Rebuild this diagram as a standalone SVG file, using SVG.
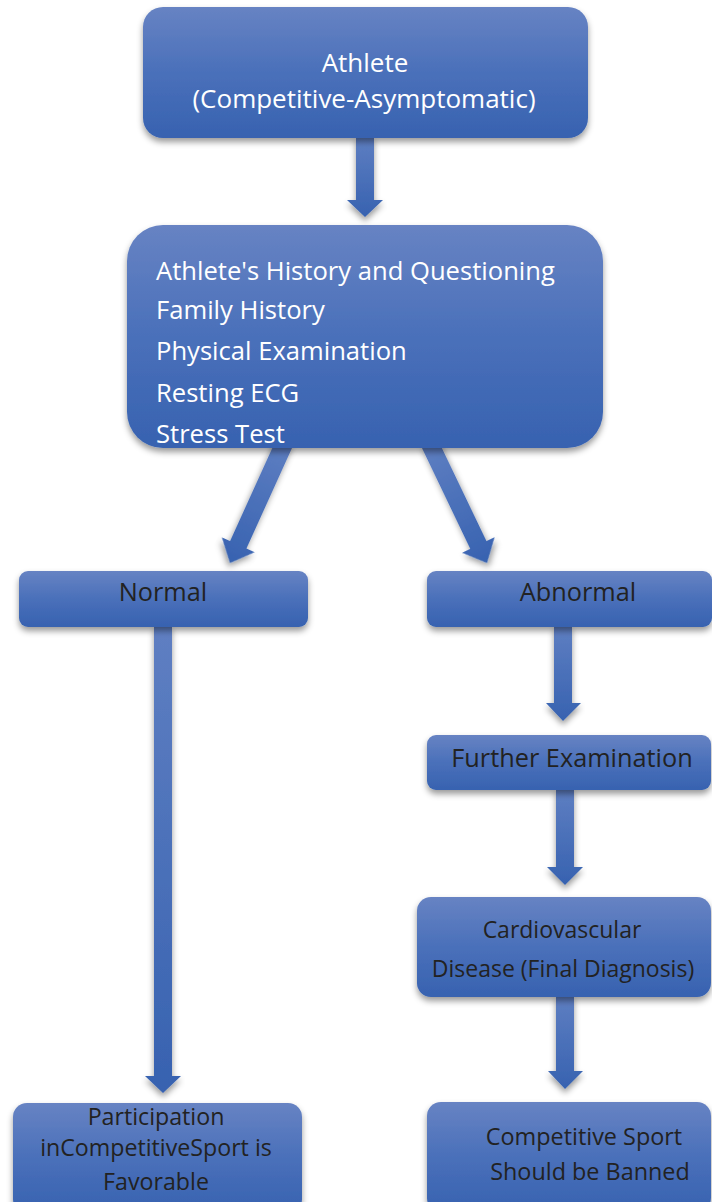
<svg xmlns="http://www.w3.org/2000/svg" width="712" height="1202" viewBox="0 0 712 1202">
  <defs>
    <linearGradient id="boxFill" x1="0" y1="0" x2="0" y2="1">
      <stop offset="0" stop-color="#6783c3"/>
      <stop offset="0.5" stop-color="#4a70ba"/>
      <stop offset="1" stop-color="#3762b0"/>
    </linearGradient>
    <linearGradient id="arrowFill" x1="0" y1="0" x2="0" y2="1">
      <stop offset="0" stop-color="#5f7fc2"/>
      <stop offset="1" stop-color="#3762b0"/>
    </linearGradient>
    <filter id="shadow" x="-10%" y="-10%" width="120%" height="130%">
      <feDropShadow dx="0" dy="4" stdDeviation="3" flood-color="#000" flood-opacity="0.4"/>
    </filter>
    <style>
      .box { fill: url(#boxFill); filter: url(#shadow); }
      .arrow { fill: url(#arrowFill); filter: url(#shadow); }
      .lt { font-family: "Open Sans", "Noto Sans", sans-serif; fill: #ffffff; }
      .dk { font-family: "Open Sans", "Noto Sans", sans-serif; fill: #222222; }
      .c { text-anchor: middle; }
    </style>
  </defs>

  <!-- connectors -->
  <g id="connectors">
    <!-- Athlete -> screening -->
    <polygon class="arrow" points="356,136 374,136 374,200 383,200 365,217 347,200 356,200"/>
    <!-- screening -> Normal -->
    <g transform="translate(230,563) rotate(24.4)">
      <polygon class="arrow" points="-9,-135 9,-135 9,-20 18,-20 0,0 -18,-20 -9,-20"/>
    </g>
    <!-- screening -> Abnormal -->
    <g transform="translate(487,563) rotate(-25.6)">
      <polygon class="arrow" points="-9,-135 9,-135 9,-20 18,-20 0,0 -18,-20 -9,-20"/>
    </g>
    <!-- Normal -> Participation -->
    <polygon class="arrow" points="154,625 172,625 172,1076 181,1076 163,1093 145,1076 154,1076"/>
    <!-- Abnormal -> Further Examination -->
    <polygon class="arrow" points="554,625 572,625 572,703 581,703 563,721 546,703 554,703"/>
    <!-- Further Examination -> Cardiovascular -->
    <polygon class="arrow" points="556,788 574,788 574,867 583,867 565,885 547,867 556,867"/>
    <!-- Cardiovascular -> Banned -->
    <polygon class="arrow" points="556,995 574,995 574,1071 583,1071 565,1089 548,1071 556,1071"/>
  </g>

  <g id="athlete">
    <rect class="box" x="143" y="7" width="445" height="131" rx="20"/>
    <text class="lt c" x="365" y="72" font-size="26">Athlete</text>
    <text class="lt c" x="364" y="108" font-size="26">(Competitive-Asymptomatic)</text>
  </g>

  <g id="screening">
    <rect class="box" x="127" y="225" width="476" height="223" rx="36"/>
    <text class="lt" x="156" y="280" font-size="25.6">Athlete's History and Questioning</text>
    <text class="lt" x="156" y="319" font-size="25.6">Family History</text>
    <text class="lt" x="156" y="360" font-size="25.6">Physical Examination</text>
    <text class="lt" x="156" y="402" font-size="25.6">Resting ECG</text>
    <text class="lt" x="156" y="443" font-size="25.6">Stress Test</text>
  </g>

  <g id="normal">
    <rect class="box" x="19" y="571" width="289" height="56" rx="9"/>
    <text class="dk c" x="163" y="601" font-size="25.3">Normal</text>
  </g>

  <g id="abnormal">
    <rect class="box" x="427" y="571" width="285" height="56" rx="9"/>
    <text class="dk c" x="578" y="601" font-size="25.3">Abnormal</text>
  </g>

  <g id="further">
    <rect class="box" x="427" y="735" width="284" height="55" rx="9"/>
    <text class="dk c" x="572" y="767" font-size="25.3">Further Examination</text>
  </g>

  <g id="cardiovascular">
    <rect class="box" x="417" y="897" width="294" height="100" rx="14"/>
    <text class="dk c" x="562" y="938" font-size="23">Cardiovascular</text>
    <text class="dk c" x="563" y="977" font-size="23">Disease (Final Diagnosis)</text>
  </g>

  <g id="participation">
    <rect class="box" x="13" y="1103" width="289" height="110" rx="14"/>
    <text class="dk c" x="156" y="1125" font-size="23.2">Participation</text>
    <text class="dk c" x="156" y="1156" font-size="23.2">inCompetitiveSport is</text>
    <text class="dk c" x="156" y="1190" font-size="23.2">Favorable</text>
  </g>

  <g id="banned">
    <rect class="box" x="427" y="1102" width="284" height="110" rx="14"/>
    <text class="dk c" x="584" y="1145" font-size="23.4">Competitive Sport</text>
    <text class="dk c" x="590" y="1180" font-size="23.4">Should be Banned</text>
  </g>
</svg>
